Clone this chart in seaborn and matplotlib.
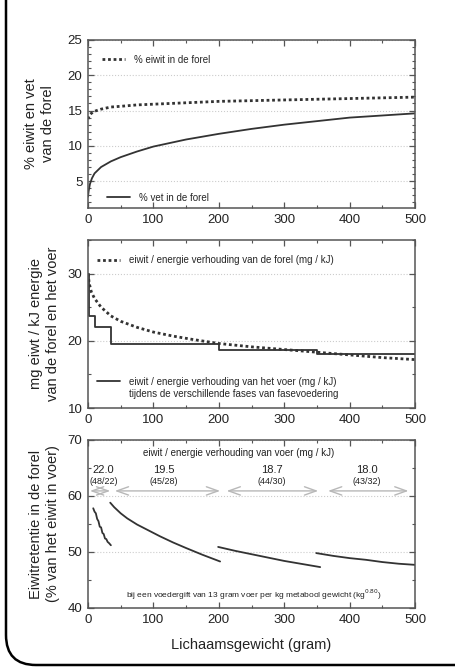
import matplotlib
matplotlib.use('Agg')
import matplotlib.pyplot as plt
import seaborn as sns
import numpy as np
from matplotlib.lines import Line2D
from matplotlib.patches import FancyBboxPatch
from matplotlib.ticker import MultipleLocator

# Panel 1: % eiwit en vet in de forel
eiwit_x = [0, 2, 5, 10, 20, 35, 50, 75, 100, 150, 200, 250, 300, 350, 400, 450, 500]
eiwit_y = [13.8, 14.3, 14.6, 14.9, 15.2, 15.5, 15.6, 15.8, 15.9, 16.1, 16.3, 16.4, 16.5, 16.6, 16.7, 16.8, 16.9]
vet_x = [0, 1, 3, 6, 10, 20, 35, 50, 75, 100, 150, 200, 250, 300, 350, 400, 450, 500]
vet_y = [2.8, 3.6, 4.6, 5.4, 6.1, 7.0, 7.8, 8.4, 9.2, 9.9, 10.9, 11.7, 12.4, 13.0, 13.5, 14.0, 14.3, 14.6]

# Panel 2: eiwit / energie verhouding
forel_x = [0, 2, 5, 10, 20, 35, 50, 75, 100, 130, 160, 200, 250, 300, 350, 400, 450, 500]
forel_y = [30.0, 28.5, 27.3, 26.3, 25.0, 23.7, 22.9, 22.0, 21.3, 20.7, 20.2, 19.6, 19.1, 18.7, 18.3, 17.9, 17.5, 17.2]
voer_x = [0, 2, 10, 35, 200, 350, 500]
voer_y = [30.0, 23.7, 22.0, 19.5, 18.7, 18.0, 18.0]

# Panel 3: eiwitretentie per fase
ret1_x = [8, 10, 12, 14, 16, 18, 20, 22, 24, 26, 28, 30, 32, 35]
ret1_y = [57.8, 57.2, 56.9, 55.9, 55.5, 54.5, 54.4, 53.4, 53.2, 52.4, 52.3, 51.8, 51.6, 51.2]
ret2_x = [34, 40, 50, 60, 75, 90, 110, 130, 150, 175, 202]
ret2_y = [58.8, 58.0, 56.9, 56.0, 54.9, 54.0, 52.8, 51.7, 50.7, 49.5, 48.3]
ret3_x = [199, 225, 250, 275, 300, 325, 355]
ret3_y = [50.9, 50.2, 49.6, 49.0, 48.4, 47.9, 47.3]
ret4_x = [349, 375, 400, 425, 450, 475, 500]
ret4_y = [49.8, 49.3, 48.9, 48.6, 48.2, 47.9, 47.7]

phase_start = [3, 41, 212, 367]
phase_end = [34, 202, 352, 490]
phase_label_x = [24, 116, 281, 426]
phase_ratio = ['22.0', '19.5', '18.7', '18.0']
phase_mix = ['(48/22)', '(45/28)', '(44/30)', '(43/32)']

sns.set_theme(style='ticks')
plt.rcParams['font.family'] = ['Liberation Sans', 'DejaVu Sans']
plt.rcParams['axes.linewidth'] = 1.1

dark = '#333333'
fig = plt.figure(figsize=(4.55, 6.67), dpi=100)

# rounded frame (left + bottom)
bg = fig.add_axes([0, 0, 1, 1], zorder=-1)
bg.set_xlim(0, 455)
bg.set_ylim(667, 0)
bg.axis('off')
bg.add_patch(FancyBboxPatch((6, -100), 700, 765, boxstyle='round,pad=0,rounding_size=30',
                            fc='none', ec='black', lw=1.8))

ax1 = fig.add_axes([0.1934, 0.6882, 0.7187, 0.2519])
ax2 = fig.add_axes([0.1934, 0.3883, 0.7187, 0.2519])
ax3 = fig.add_axes([0.1934, 0.0885, 0.7187, 0.2519])


def style_axis(ax, ylim, ymajor, yminor, ylab, labx):
    ax.set_xlim(0, 500)
    ax.set_ylim(*ylim)
    ax.xaxis.set_major_locator(MultipleLocator(100))
    ax.xaxis.set_minor_locator(MultipleLocator(50))
    ax.yaxis.set_major_locator(MultipleLocator(ymajor))
    ax.yaxis.set_minor_locator(MultipleLocator(yminor))
    ax.tick_params(which='both', direction='in', top=True, right=True, colors='#555555',
                   labelcolor='#222222', labelsize=9.5, pad=4)
    ax.tick_params(which='major', length=4, width=0.9)
    ax.tick_params(which='minor', length=2, width=0.8)
    for s in ax.spines.values():
        s.set_color('#555555')
    ax.yaxis.grid(True, ls=':', color='#cccccc', lw=0.8)
    ax.set_axisbelow(True)
    ax.set_ylabel(ylab, fontsize=10.5, color='#222222', linespacing=1.3)
    ax.yaxis.set_label_coords(labx, 0.5)
    ax.set_xlabel('')


# Panel 1
sns.lineplot(x=eiwit_x, y=eiwit_y, ax=ax1, color=dark, lw=2.0, ls=(0, (1, 1)))
sns.lineplot(x=vet_x, y=vet_y, ax=ax1, color=dark, lw=1.3)
style_axis(ax1, (1.2, 25), 5, 1, '% eiwit en vet\nvan de forel', -0.10)
leg_a = ax1.legend([Line2D([], [], color=dark, lw=2.0, ls=(0, (1, 1)))], ['% eiwit in de forel'],
                   loc='upper left', bbox_to_anchor=(0.015, 0.965), frameon=False, fontsize=7,
                   handlelength=2.4, handletextpad=0.9)
ax1.add_artist(leg_a)
ax1.legend([Line2D([], [], color=dark, lw=1.3)], ['% vet in de forel'],
           loc='lower left', bbox_to_anchor=(0.03, -0.02), frameon=False, fontsize=7,
           handlelength=2.4, handletextpad=0.9)

# Panel 2
sns.lineplot(x=forel_x, y=forel_y, ax=ax2, color=dark, lw=2.0, ls=(0, (1, 1)))
sns.lineplot(x=voer_x, y=voer_y, ax=ax2, color=dark, lw=1.3, drawstyle='steps-post')
style_axis(ax2, (10, 35), 10, 5, 'mg eiwt / kJ energie\nvan de forel en het voer', -0.085)
leg_b = ax2.legend([Line2D([], [], color=dark, lw=2.0, ls=(0, (1, 1)))],
                   ['eiwit / energie verhouding van de forel (mg / kJ)'],
                   loc='upper left', bbox_to_anchor=(0.0, 0.96), frameon=False, fontsize=7,
                   handlelength=2.4, handletextpad=0.9)
ax2.add_artist(leg_b)
ax2.legend([Line2D([], [], color=dark, lw=1.3), Line2D([], [], lw=0)],
           ['eiwit / energie verhouding van het voer (mg / kJ)',
            'tijdens de verschillende fases van fasevoedering'],
           loc='lower left', bbox_to_anchor=(0.0, 0.0), frameon=False, fontsize=7,
           handlelength=2.4, handletextpad=0.9, labelspacing=0.25)

# Panel 3
for xs, ys in [(ret1_x, ret1_y), (ret2_x, ret2_y), (ret3_x, ret3_y), (ret4_x, ret4_y)]:
    sns.lineplot(x=xs, y=ys, ax=ax3, color=dark, lw=1.3, sort=False)
style_axis(ax3, (40, 70), 10, 5, 'Eiwitretentie in de forel\n(% van het eiwit in voer)', -0.085)
ax3.set_xlabel('Lichaamsgewicht (gram)', fontsize=10.5, color='#222222', labelpad=9)

for x0, x1, lx, r, m in zip(phase_start, phase_end, phase_label_x, phase_ratio, phase_mix):
    ax3.annotate('', xy=(x0, 60.9), xytext=(x1, 60.9),
                 arrowprops=dict(arrowstyle='<->,head_length=0.7,head_width=0.25',
                                 color='#b8b8b8', lw=1.0, shrinkA=0, shrinkB=0))
    ax3.text(lx, 64.6, r, ha='center', va='center', fontsize=8, color='#222222')
    ax3.text(lx, 62.6, m, ha='center', va='center', fontsize=6.5, color='#222222')
ax3.text(230, 67.6, 'eiwit / energie verhouding van voer (mg / kJ)', ha='center', va='center',
         fontsize=7, color='#222222')
ax3.text(253, 42.4, 'bij een voedergift van 13 gram voer per kg metabool gewicht (kg$^{0.80}$)',
         ha='center', va='center', fontsize=6, color='#222222')

fig.savefig('out.png', dpi=100)
